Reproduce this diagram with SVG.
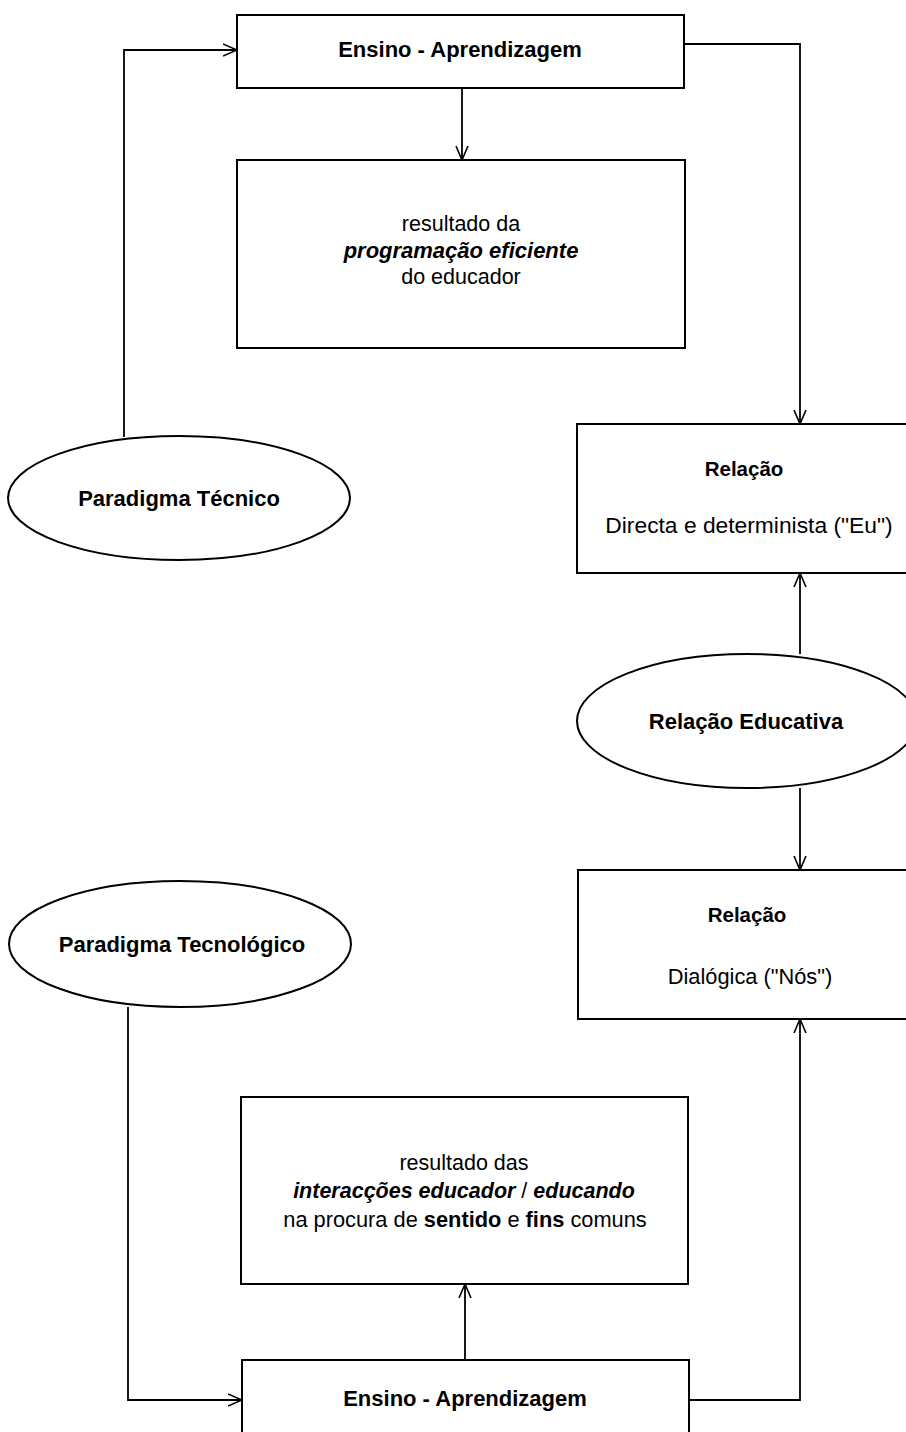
<svg xmlns="http://www.w3.org/2000/svg" width="906" height="1432" viewBox="0 0 906 1432">
<defs>
<style>
.box{fill:#fff;stroke:#000;stroke-width:2}
.ell{fill:#fff;stroke:#000;stroke-width:2}
.con{fill:none;stroke:#000;stroke-width:1.8}
text{font-family:"Liberation Sans",Arial,sans-serif;fill:#000;text-anchor:middle}
.b{font-weight:bold}
.bi{font-weight:bold;font-style:italic}
.r{font-size:21.5px}
.l{font-size:22px}
</style>
<marker id="arr" viewBox="0 0 14 14" refX="14" refY="7" markerWidth="14" markerHeight="14" markerUnits="userSpaceOnUse" orient="auto">
<path d="M0,1 L14,7 L0,13" fill="none" stroke="#000" stroke-width="1.6"/>
</marker>
</defs>
<rect width="906" height="1432" fill="#fff"/>
<g id="connectors">
<path class="con" d="M124,437 L124,50 L237,50" marker-end="url(#arr)"/>
<path class="con" d="M684,44 L800,44 L800,424" marker-end="url(#arr)"/>
<path class="con" d="M462,88 L462,160" marker-end="url(#arr)"/>
<path class="con" d="M800,654 L800,573" marker-end="url(#arr)"/>
<path class="con" d="M800,788 L800,870" marker-end="url(#arr)"/>
<path class="con" d="M128,1007 L128,1400 L242,1400" marker-end="url(#arr)"/>
<path class="con" d="M689,1400 L800,1400 L800,1019" marker-end="url(#arr)"/>
<path class="con" d="M465,1360 L465,1284" marker-end="url(#arr)"/>
</g>
<g id="ensino-top">
<rect class="box" x="237" y="15" width="447" height="73"/>
<text class="b l" x="460" y="57">Ensino - Aprendizagem</text>
</g>
<g id="resultado-prog">
<rect class="box" x="237" y="160" width="448" height="188"/>
<text class="r" x="461" y="231">resultado da</text>
<text class="bi l" x="461" y="258">programação eficiente</text>
<text class="r" x="461" y="284">do educador</text>
</g>
<g id="paradigma-tecnico">
<ellipse class="ell" cx="179" cy="498" rx="171" ry="62"/>
<text class="b l" x="179" y="506">Paradigma Técnico</text>
</g>
<g id="relacao-directa">
<rect class="box" x="577" y="424" width="335" height="149"/>
<text class="b" font-size="20.5" x="744" y="476">Relação</text>
<text font-size="22.8" x="749" y="533">Directa e determinista ("Eu")</text>
</g>
<g id="relacao-educativa">
<ellipse class="ell" cx="747" cy="721" rx="170" ry="67"/>
<text class="b l" x="746" y="729">Relação Educativa</text>
</g>
<g id="relacao-dialogica">
<rect class="box" x="578" y="870" width="335" height="149"/>
<text class="b" font-size="20.5" x="747" y="922">Relação</text>
<text font-size="21.8" x="750" y="984">Dialógica ("Nós")</text>
</g>
<g id="paradigma-tecnologico">
<ellipse class="ell" cx="180" cy="944" rx="171" ry="63"/>
<text class="b l" x="182" y="952">Paradigma Tecnológico</text>
</g>
<g id="resultado-interaccoes">
<rect class="box" x="241" y="1097" width="447" height="187"/>
<text class="r" x="464" y="1170">resultado das</text>
<text class="r" x="464" y="1198"><tspan class="bi">interacções educador</tspan> / <tspan class="bi">educando</tspan></text>
<text font-size="21.8" x="465" y="1227">na procura de <tspan class="b">sentido</tspan> e <tspan class="b">fins</tspan> comuns</text>
</g>
<g id="ensino-bottom">
<rect class="box" x="242" y="1360" width="447" height="90"/>
<text class="b l" x="465" y="1406">Ensino - Aprendizagem</text>
</g>
</svg>
